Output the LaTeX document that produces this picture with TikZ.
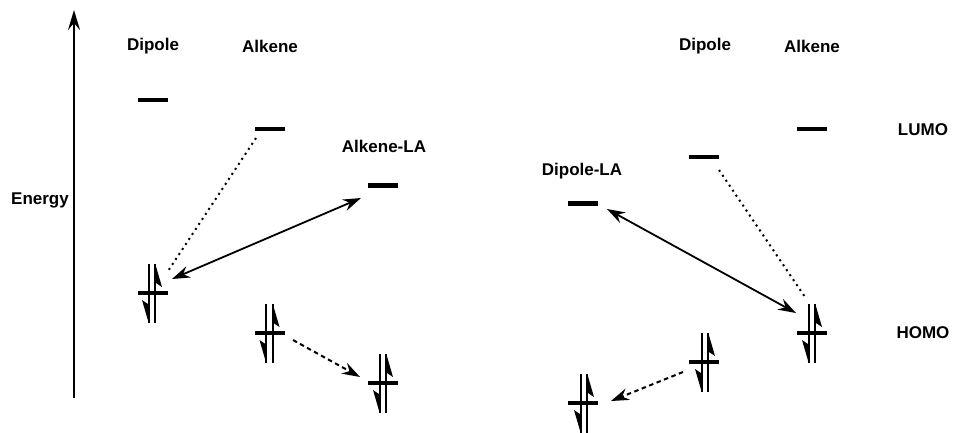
\documentclass[tikz,border=0pt]{standalone}
\usepackage{fontspec}
\setmainfont{Liberation Sans}
\usetikzlibrary{arrows.meta}

% one electron pair: two vertical strokes with half-arrow heads
\newcommand{\epair}[2]{%
  \draw[line width=2.3pt] (#1-3.3,#2-29) -- (#1-3.3,#2+30);
  \draw[line width=2.3pt] (#1+3.3,#2-29) -- (#1+3.3,#2+30);
  \fill (#1+3.3,#2-29) -- (#1+10,#2-6) -- (#1+4,#2-10) -- cycle;
  \fill (#1-3.3,#2+30) -- (#1-10,#2+7) -- (#1-4,#2+11) -- cycle;
}

\begin{document}
\begin{tikzpicture}[x=1pt,y=-1pt,
  lbl/.style={font=\fontsize{17}{19}\selectfont\bfseries, inner sep=0pt},
  lvl/.style={fill=black, minimum width=30pt, minimum height=4.5pt, inner sep=0pt},
  solidlink/.style={line width=1.8pt, {Stealth[length=18pt,width=12pt,inset=6pt]}-{Stealth[length=18pt,width=12pt,inset=6pt]}},
  dashlink/.style={line width=2pt, dash pattern=on 4.5pt off 3.5pt, -{Stealth[length=18pt,width=12pt,inset=6pt]}},
  dotlink/.style={line width=2pt, dash pattern=on 2pt off 4pt}]
\useasboundingbox (0,0) rectangle (955,432);

% energy axis
\coordinate (ebot) at (74,398);
\coordinate (etop) at (74,10);
\draw[line width=2pt, -{Stealth[length=20pt,width=12pt,inset=7pt]}] (ebot) -- (etop);
\node[lbl] (energy) at (40,200) {Energy};

% ---- left diagram: Lewis acid on the alkene ----
\node[lbl] (tDipL) at (153,46) {Dipole};
\node[lbl] (tAlkL) at (270,46) {Alkene};
\node[lbl] (tAlkLA) at (384,146) {Alkene-LA};

\node[lvl] (dLumoL)  at (152.5,100) {};
\node[lvl] (aLumoL)  at (270,129) {};
\node[lvl] (laLumoL) at (383,185.5) {};

\node[lvl] (dHomoL)  at (152.5,293) {};
\node[lvl] (aHomoL)  at (269.5,333) {};
\node[lvl] (laHomoL) at (382.5,383) {};
\epair{152}{293}
\epair{269.5}{333}
\epair{383}{383}

\coordinate (l1a) at (256,138);
\coordinate (l1b) at (168,271);
\coordinate (l2a) at (172,279);
\coordinate (l2b) at (361,198);
\coordinate (l3a) at (293,340);
\coordinate (l3b) at (360,377);
\draw[dotlink] (l1a) -- (l1b);
\draw[solidlink] (l2a) -- (l2b);
\draw[dashlink] (l3a) -- (l3b);

% ---- right diagram: Lewis acid on the dipole ----
\node[lbl] (tDipR) at (705,46) {Dipole};
\node[lbl] (tAlkR) at (812,46) {Alkene};
\node[lbl] (tDipLA) at (582,171) {Dipole-LA};
\node[lbl] (tLumo) at (923,130) {LUMO};
\node[lbl] (tHomo) at (923,333) {HOMO};

\node[lvl] (dLumoR)  at (704,157) {};
\node[lvl] (aLumoR)  at (812,129) {};
\node[lvl] (laLumoR) at (583,203.5) {};

\node[lvl] (aHomoR)  at (812,333) {};
\node[lvl] (dHomoR)  at (703.5,362) {};
\node[lvl] (laHomoR) at (582.5,403) {};
\epair{812}{333}
\epair{705}{362}
\epair{584}{403}

\coordinate (r1a) at (719,170);
\coordinate (r1b) at (805,297);
\coordinate (r2a) at (607,209);
\coordinate (r2b) at (796,313);
\coordinate (r3a) at (683,372);
\coordinate (r3b) at (611,401);
\draw[dotlink] (r1a) -- (r1b);
\draw[solidlink] (r2a) -- (r2b);
\draw[dashlink] (r3a) -- (r3b);
\end{tikzpicture}
\end{document}
